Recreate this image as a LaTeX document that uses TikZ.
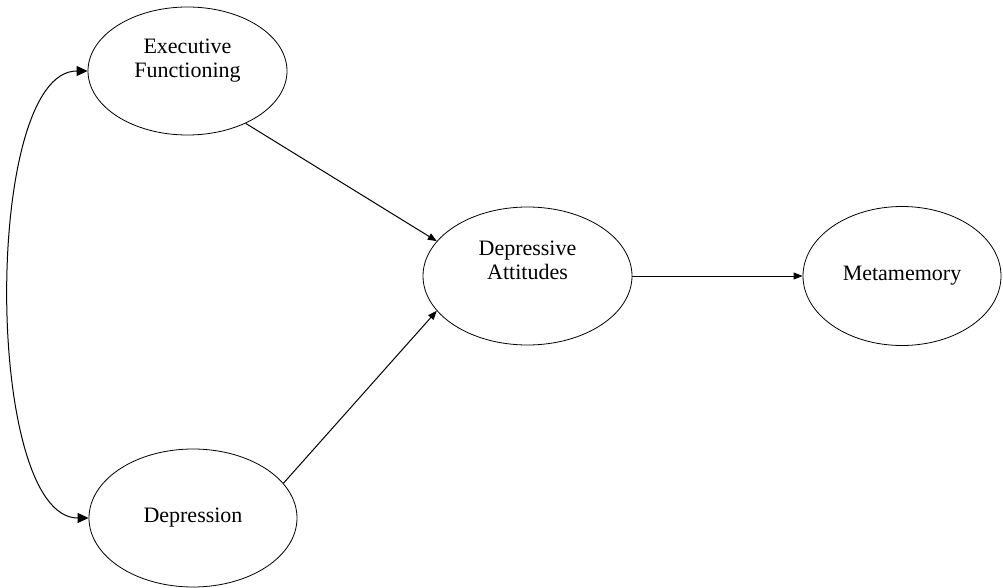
\documentclass[tikz,border=0pt]{standalone}
\usepackage{fontspec}
\setmainfont{Liberation Serif}
\usetikzlibrary{arrows.meta,shapes.geometric}

\begin{document}
\begin{tikzpicture}[x=1pt,y=-1pt,font=\fontsize{22pt}{24pt}\selectfont,
  latent/.style={draw,ellipse,line width=0.8pt,inner sep=0pt},
  lbl/.style={align=center,inner sep=0pt},
  arr/.style={-{Triangle[length=9pt,width=7pt]},line width=1pt},
  cov/.style={{Triangle[length=11pt,width=10pt]}-{Triangle[length=11pt,width=10pt]},line width=1pt}]
  \useasboundingbox (0,0) rectangle (1003,588);
  \node[latent,minimum width=199pt,minimum height=128pt,
    label={[lbl,name=eflbl,yshift=10pt]center:Executive\\Functioning}] (ef) at (187.5,71) {};
  \node[latent,minimum width=208pt,minimum height=138pt] (dep) at (193,518) {Depression};
  \node[latent,minimum width=209pt,minimum height=138pt,
    label={[lbl,name=dalbl,yshift=16pt]center:Depressive\\Attitudes}] (da) at (527.5,276) {};
  \node[latent,minimum width=198pt,minimum height=139pt] (meta) at (902,276) {Metamemory};
  \draw[arr] (ef.-42) -- (da.159);
  \draw[arr] (dep.21) -- (da.201);
  \draw[arr] (da.east) -- (meta.west);
  \draw[cov] (ef.west) to[out=180,in=180,looseness=0.6] (dep.west);
\end{tikzpicture}
\end{document}
